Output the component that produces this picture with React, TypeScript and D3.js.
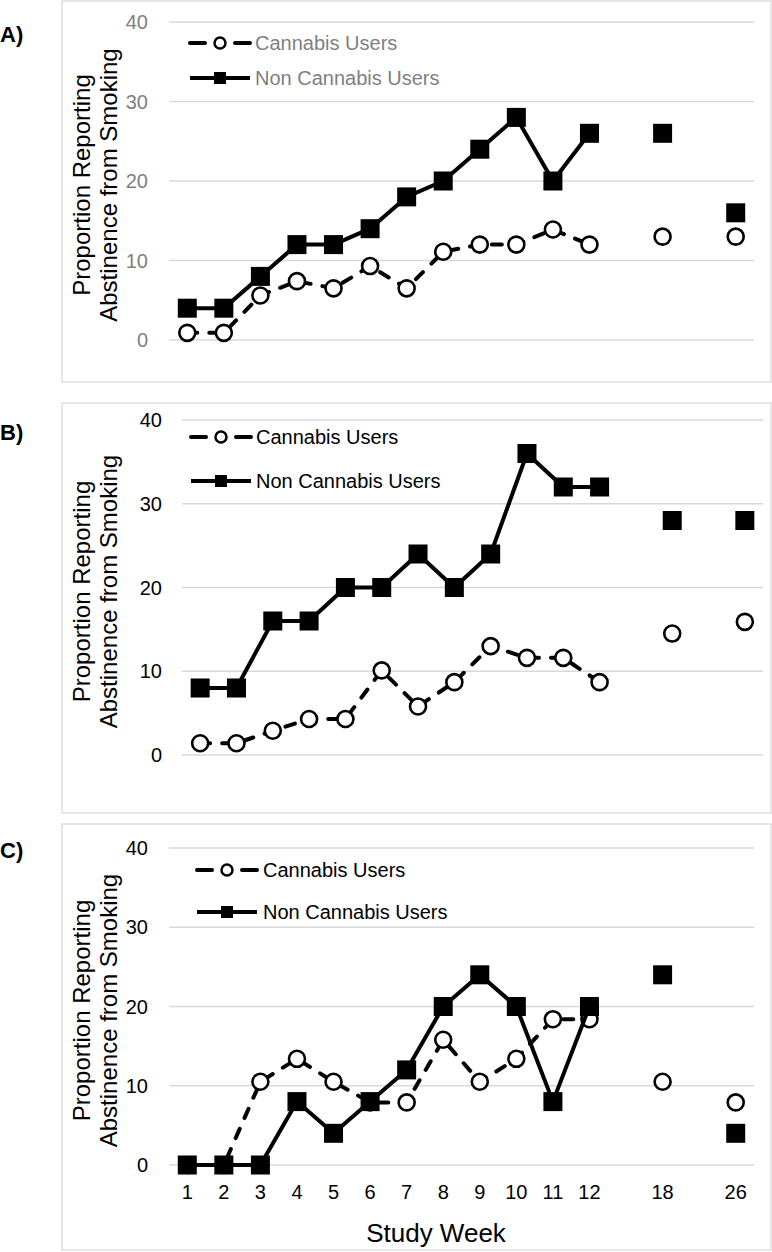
import React from "react";
import * as d3 from "d3";

// ---- data ----
const weeks = ["1", "2", "3", "4", "5", "6", "7", "8", "9", "10", "11", "12", "18", "26"];
const weekSlot = [0, 1, 2, 3, 4, 5, 6, 7, 8, 9, 10, 11, 13, 15];
const connectedCount = 12;
const yTicks = [0, 10, 20, 30, 40];
const seriesNames = ["Cannabis Users", "Non Cannabis Users"];

const aCannabis = [0.9, 0.9, 5.6, 7.4, 6.5, 9.3, 6.5, 11.1, 12.0, 12.0, 13.9, 12.0, 13.0, 13.0];
const aNon = [4, 4, 8, 12, 12, 14, 18, 20, 24, 28, 20, 26, 26, 16];
const bCannabis = [1.4, 1.4, 2.9, 4.3, 4.3, 10.1, 5.8, 8.7, 13.0, 11.6, 11.6, 8.7, 14.5, 15.9];
const bNon = [8, 8, 16, 16, 20, 20, 24, 20, 24, 36, 32, 32, 28, 28];
const cCannabis = [0, 0, 10.5, 13.4, 10.5, 7.9, 7.9, 15.8, 10.5, 13.4, 18.4, 18.4, 10.5, 7.9];
const cNon = [0, 0, 0, 8, 4, 8, 12, 20, 24, 20, 8, 20, 24, 4];

const FONT = "'Liberation Sans', Arial, sans-serif";

type Cfg = {
  label: string;
  labelY: number;
  frame: [number, number, number, number];
  x0: number;
  x1: number;
  yTop: number;
  yBot: number;
  tickRight: number;
  tickColor: string;
  legendColor: string;
  legendX: number;
  legendY: [number, number];
  legendTextX: number;
  xAxis: boolean;
};

function Panel({ cfg, cannabis, non }: { cfg: Cfg; cannabis: number[]; non: number[] }) {
  const x = d3.scaleLinear().domain([-0.5, 15.5]).range([cfg.x0, cfg.x1]);
  const y = d3.scaleLinear().domain([0, 40]).range([cfg.yBot, cfg.yTop]);
  const line = d3
    .line<number>()
    .x((_, i) => x(weekSlot[i]))
    .y((d) => y(d));
  const [fx, fy, fw, fh] = cfg.frame;
  const yMid = (cfg.yTop + cfg.yBot) / 2 + 4;
  const sq = 19;
  const lx0 = cfg.legendX;
  const lx1 = cfg.legendX + 60;
  const lxm = (lx0 + lx1) / 2;
  return (
    <g>
      <rect x={fx} y={fy} width={fw} height={fh} fill="#fff" stroke="#d9d9d9" strokeWidth={1.3} />
      <text x={0} y={cfg.labelY} fontFamily={FONT} fontWeight="bold" fontSize={22} fill="#000">
        {cfg.label}
      </text>
      {yTicks.map((t) => (
        <g key={t}>
          <line x1={cfg.x0} x2={cfg.x1} y1={y(t)} y2={y(t)} stroke="#d9d9d9" strokeWidth={1.5} />
          <text
            x={cfg.tickRight}
            y={y(t)}
            textAnchor="end"
            dominantBaseline="central"
            fontFamily={FONT}
            fontSize={20}
            fill={cfg.tickColor}
          >
            {t}
          </text>
        </g>
      ))}
      <text
        transform={`translate(90,${yMid}) rotate(-90)`}
        textAnchor="middle"
        fontFamily={FONT}
        fontSize={24}
        fill="#000"
      >
        Proportion Reporting
      </text>
      <text
        transform={`translate(117,${yMid}) rotate(-90)`}
        textAnchor="middle"
        fontFamily={FONT}
        fontSize={24}
        fill="#000"
      >
        Abstinence from Smoking
      </text>
      {cfg.xAxis && (
        <g>
          {weeks.map((w, i) => (
            <text
              key={w}
              x={x(weekSlot[i])}
              y={cfg.yBot + 27}
              textAnchor="middle"
              dominantBaseline="central"
              fontFamily={FONT}
              fontSize={20}
              fill="#000"
            >
              {w}
            </text>
          ))}
          <text x={436} y={cfg.yBot + 68} textAnchor="middle" dominantBaseline="central" fontFamily={FONT} fontSize={26} fill="#000">
            Study Week
          </text>
        </g>
      )}
      {/* Series 1: cannabis */}
      <path
        d={line(cannabis.slice(0, connectedCount)) || ""}
        fill="none"
        stroke="#000"
        strokeWidth={4}
        strokeDasharray="10 12"
        strokeLinecap="round"
      />
      {cannabis.map((v, i) => (
        <circle key={i} cx={x(weekSlot[i])} cy={y(v)} r={8} fill="#fff" stroke="#000" strokeWidth={2.6} />
      ))}
      {/* Series 2: non cannabis */}
      <path d={line(non.slice(0, connectedCount)) || ""} fill="none" stroke="#000" strokeWidth={4} strokeLinejoin="round" />
      {non.map((v, i) => (
        <rect key={i} x={x(weekSlot[i]) - sq / 2} y={y(v) - sq / 2} width={sq} height={sq} fill="#000" />
      ))}
      {/* legend */}
      <line x1={lx0} x2={lx1} y1={cfg.legendY[0]} y2={cfg.legendY[0]} stroke="#000" strokeWidth={4} strokeDasharray="15 30 15" strokeLinecap="round" />
      <circle cx={lxm} cy={cfg.legendY[0]} r={5.5} fill="#fff" stroke="#000" strokeWidth={2.5} />
      <text x={cfg.legendTextX} y={cfg.legendY[0]} dominantBaseline="central" fontFamily={FONT} fontSize={20} fill={cfg.legendColor}>
        {seriesNames[0]}
      </text>
      <line x1={lx0} x2={lx1} y1={cfg.legendY[1]} y2={cfg.legendY[1]} stroke="#000" strokeWidth={4} />
      <rect x={lxm - 6} y={cfg.legendY[1] - 6} width={12} height={12} fill="#000" />
      <text x={cfg.legendTextX} y={cfg.legendY[1]} dominantBaseline="central" fontFamily={FONT} fontSize={20} fill={cfg.legendColor}>
        {seriesNames[1]}
      </text>
    </g>
  );
}

const cfgA: Cfg = {
  label: "A)",
  labelY: 42,
  frame: [62, 1, 709, 381],
  x0: 169,
  x1: 754,
  yTop: 22,
  yBot: 340,
  tickRight: 148,
  tickColor: "#7f7f7f",
  legendColor: "#7f7f7f",
  legendX: 190,
  legendY: [43, 78],
  legendTextX: 255,
  xAxis: false,
};
const cfgB: Cfg = {
  label: "B)",
  labelY: 440,
  frame: [62, 403, 709, 410],
  x0: 182,
  x1: 763,
  yTop: 420,
  yBot: 755,
  tickRight: 162,
  tickColor: "#000",
  legendColor: "#000",
  legendX: 191,
  legendY: [437, 481],
  legendTextX: 256,
  xAxis: false,
};
const cfgC: Cfg = {
  label: "C)",
  labelY: 858,
  frame: [62, 824, 709, 426],
  x0: 169,
  x1: 754,
  yTop: 848,
  yBot: 1165,
  tickRight: 148,
  tickColor: "#000",
  legendColor: "#000",
  legendX: 197,
  legendY: [870, 912],
  legendTextX: 263,
  xAxis: true,
};

export default function App() {
  return (
    <div style={{ position: "absolute", left: 0, top: 0 }}>
      <svg width={772} height={1252} style={{ display: "block", background: "#fff" }}>
        <rect width={772} height={1252} fill="#fff" />
        <Panel cfg={cfgA} cannabis={aCannabis} non={aNon} />
        <Panel cfg={cfgB} cannabis={bCannabis} non={bNon} />
        <Panel cfg={cfgC} cannabis={cCannabis} non={cNon} />
      </svg>
    </div>
  );
}
